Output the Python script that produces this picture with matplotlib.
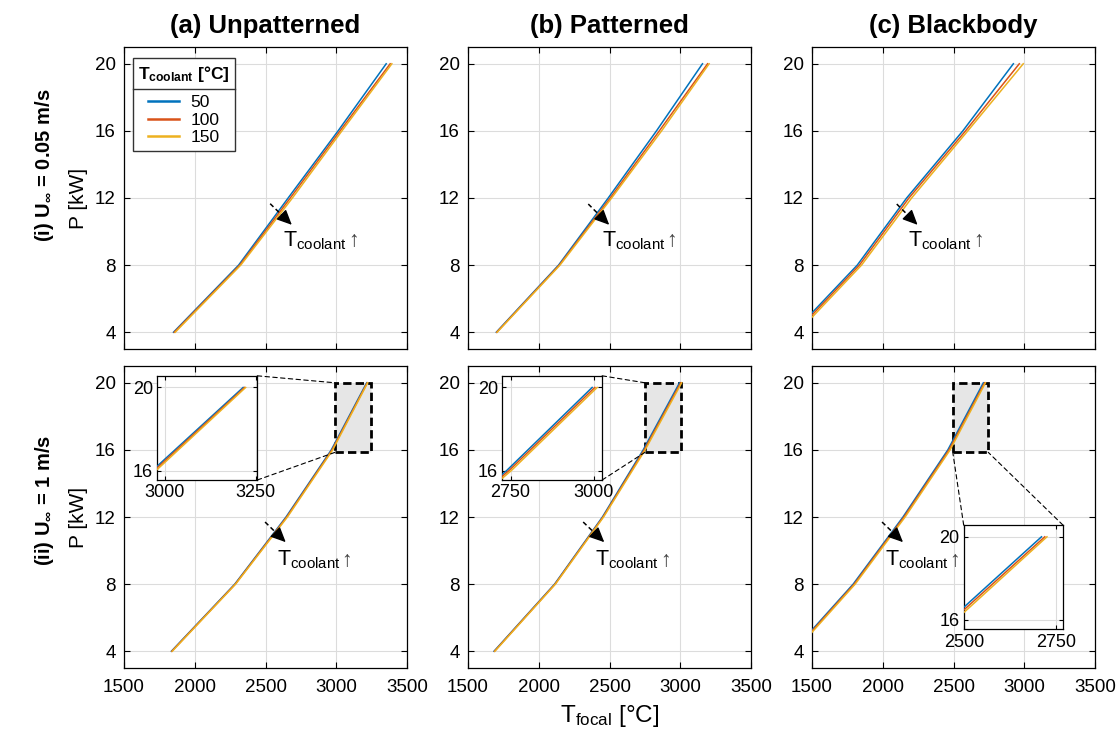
import matplotlib
matplotlib.use("Agg")
import matplotlib.pyplot as plt
from matplotlib.patches import Rectangle, ConnectionPatch
from matplotlib.lines import Line2D

plt.rcParams['font.family'] = ['Liberation Sans', 'DejaVu Sans']
plt.rcParams['mathtext.fontset'] = 'custom'
plt.rcParams['mathtext.rm'] = 'Liberation Sans'
plt.rcParams['mathtext.it'] = 'Liberation Sans:italic'
plt.rcParams['mathtext.bf'] = 'Liberation Sans:bold'
plt.rcParams['mathtext.fallback'] = 'stixsans'

# ---------------- data ----------------
P_kW = [4, 8, 12, 16, 20]
coolant_T = ['50', '100', '150']
colors = ['#0072BD', '#D95319', '#EDB120']

col_titles = ['(a) Unpatterned', '(b) Patterned', '(c) Blackbody']
row_labels = [r'(i) $\mathbf{U_{\infty}}$ = 0.05 m/s', r'(ii) $\mathbf{U_{\infty}}$ = 1 m/s']

# T_focal [°C] for coolant 50 / 100 / 150 °C
T_a_i = [[1850, 2310, 2660, 3013, 3353],
         [1855, 2318, 2675, 3027, 3381],
         [1862, 2325, 2690, 3040, 3393]]
T_b_i = [[1700, 2140, 2491, 2832, 3157],
         [1703, 2145, 2505, 2852, 3193],
         [1706, 2150, 2515, 2868, 3204]]
T_c_i = [[1370, 1820, 2169, 2566, 2923],
         [1385, 1835, 2185, 2585, 2965],
         [1400, 1850, 2204, 2601, 2993]]
T_a_ii = [[1835, 2283, 2645, 2965, 3215],
          [1838, 2286, 2650, 2970, 3219],
          [1841, 2289, 2655, 2975, 3222]]
T_b_ii = [[1684, 2112, 2450, 2738, 2995],
          [1687, 2115, 2454, 2745, 3003],
          [1690, 2118, 2458, 2752, 3010]]
T_c_ii = [[1365, 1791, 2143, 2460, 2711],
          [1372, 1798, 2150, 2468, 2720],
          [1380, 1805, 2158, 2476, 2726]]
data = [[T_a_i, T_b_i, T_c_i], [T_a_ii, T_b_ii, T_c_ii]]

x_ticks = [1500, 2000, 2500, 3000, 3500]
y_ticks = [4, 8, 12, 16, 20]

# zoom regions (bottom row): x-range of box, y-range of box
zoom_x = [[2990, 3245], [2750, 3002], [2495, 2746]]
zoom_y = [15.85, 20]
inset_xlim = [[2979, 3254], [2725, 3025], [2498, 2770]]
inset_ylim = [15.55, 20.56]
inset_xticks = [[3000, 3250], [2750, 3000], [2500, 2750]]
inset_yticks = [16, 20]

# annotation arrows: start (x, y), end (x, y), text x, text baseline y
arrows = [
    [[(2533, 11.66), (2686, 10.4), 2627, 9.11],
     [(2350, 11.64), (2498, 10.4), 2444, 9.11],
     [(2099, 11.64), (2246, 10.4), 2180, 9.11]],
    [[(2497, 11.7), (2643, 10.5), 2580, 9.09],
     [(2314, 11.7), (2463, 10.5), 2397, 9.09],
     [(1995, 11.7), (2143, 10.5), 2014, 9.09]],
]

# ---------------- figure ----------------
W, H = 1120, 736
fig = plt.figure(figsize=(W / 100, H / 100), dpi=100)
lefts_px = [124, 468, 812]
ax_w_px = 283
row_px = [(47, 349), (366, 668)]
row_label_y_px = [165, 500]

grid_col = '#dcdcdc'

def style_axes(ax, fs, pad=6):
    ax.tick_params(direction='in', top=True, right=True, labelsize=fs,
                   length=4, width=0.8, pad=pad)
    ax.grid(True, color=grid_col, lw=0.8)
    ax.set_axisbelow(True)
    for s in ax.spines.values():
        s.set_linewidth(0.9)

axes = [[None] * 3 for _ in range(2)]
for r in range(2):
    top, bot = row_px[r]
    for c in range(3):
        ax = fig.add_axes([lefts_px[c] / W, 1 - bot / H, ax_w_px / W, (bot - top) / H])
        axes[r][c] = ax
        style_axes(ax, 13.5)
        ax.tick_params(axis='x', pad=8)
        ax.set_xlim(1500, 3500)
        ax.set_ylim(3, 21)
        ax.set_xticks(x_ticks)
        ax.set_yticks(y_ticks)
        if r == 0:
            ax.set_xticklabels([])
        for k in range(3):
            ax.plot(data[r][c][k], P_kW, color=colors[k], lw=1.1,
                    label=coolant_T[k], zorder=3)
        (x0, y0), (x1, y1), tx, ty = arrows[r][c]
        # dashed shaft
        ax.plot([x0, x0 + 0.8 * (x1 - x0)], [y0, y0 + 0.8 * (y1 - y0)],
                color='k', lw=1.1, ls=(0, (3, 2)), zorder=5)
        # solid triangular head
        ax.annotate('', xy=(x1, y1), xytext=(x0 + 0.6 * (x1 - x0), y0 + 0.6 * (y1 - y0)),
                    arrowprops=dict(arrowstyle='-|>,head_length=0.65,head_width=0.3',
                                    color='k', lw=1.0, shrinkA=0, shrinkB=0,
                                    mutation_scale=14),
                    zorder=5)
        ax.text(tx, ty, r'$\mathrm{T_{coolant}}$', fontsize=15.5, ha='left',
                va='baseline', zorder=5)
        if r == 0:
            ax.set_title(col_titles[c], fontsize=18.5, fontweight='bold', pad=10)

# arrow glyph after the T_coolant text
fig.canvas.draw()
renderer = fig.canvas.get_renderer()
for r in range(2):
    for c in range(3):
        ax = axes[r][c]
        txt = [t for t in ax.texts if 'coolant' in t.get_text()][0]
        bb = txt.get_window_extent(renderer)
        ty = arrows[r][c][3]
        ybase = ax.transData.transform((0, ty))[1]
        fig.text((bb.x1 + 1) / W, ybase / H, '↑', fontsize=15.5, color='#444444',
                 ha='left', va='baseline')

# row / axis labels
for r in range(2):
    fig.text(45 / W, 1 - row_label_y_px[r] / H, row_labels[r], rotation=90,
             fontsize=14.5, fontweight='bold', ha='center', va='center')
    axes[r][0].set_ylabel('P [kW]', fontsize=15, labelpad=5)

fig.text(610 / W, 1 - 716 / H, r'$\mathrm{T_{focal}}$ [°C]', fontsize=17.5,
         ha='center', va='center')

# legend
leg = axes[0][0].legend(title=r'$\mathbf{T_{coolant}}$ [°C]', loc='upper left',
                        bbox_to_anchor=(0.032, 0.962), borderaxespad=0,
                        fontsize=12.5, title_fontproperties={'weight': 'bold', 'size': 12.5},
                        handlelength=1.75, labelspacing=0.15, handletextpad=0.7,
                        fancybox=False, edgecolor='#333333', framealpha=1,
                        borderpad=0.3)
leg._legend_box.sep = 8
leg.get_frame().set_linewidth(1.0)
for h in leg.get_lines():
    h.set_linewidth(1.8)

# zoom boxes and insets (bottom row)
for c in range(3):
    ax = axes[1][c]
    zx0, zx1 = zoom_x[c]
    ax.add_patch(Rectangle((zx0, zoom_y[0]), zx1 - zx0, zoom_y[1] - zoom_y[0],
                           facecolor='#e6e6e6', edgecolor='k', lw=2.0,
                           ls=(0, (3, 1.5)), zorder=2))
    if c < 2:
        pos = [0.118 if c == 0 else 0.121, 0.6225, 0.353, 0.345]
    else:
        pos = [0.536, 0.128, 0.351, 0.345]
    ins = ax.inset_axes(pos)
    style_axes(ins, 13, pad=3)
    ins.tick_params(length=3)
    ins.set_xlim(*inset_xlim[c])
    ins.set_ylim(*inset_ylim)
    ins.set_xticks(inset_xticks[c])
    ins.set_yticks(inset_yticks)
    for k in range(3):
        ins.plot(data[1][c][k], P_kW, color=colors[k], lw=1.1, zorder=3)
    ins.set_zorder(6)
    if c < 2:
        pairs = [((1, 1), (zx0, zoom_y[1])), ((1, 0), (zx0, zoom_y[0]))]
    else:
        pairs = [((0, 1), (zx0, zoom_y[0])), ((1, 1), (zx1, zoom_y[0]))]
    for a_pt, b_pt in pairs:
        cp = ConnectionPatch(xyA=a_pt, coordsA=ins.transAxes, xyB=b_pt,
                             coordsB=ax.transData, ls=(0, (4, 3)), lw=0.8, color='k')
        fig.add_artist(cp)

# separator line between the legend title and its entries
fig.canvas.draw()
lb = leg.get_frame().get_window_extent(renderer)
tb = leg.get_title().get_window_extent(renderer)
first = leg.get_texts()[0].get_window_extent(renderer)
ysep = 0.5 * (tb.y0 + first.y1)
fig.add_artist(Line2D([lb.x0 / W, lb.x1 / W], [ysep / H, ysep / H],
                      color='#333333', lw=1.0, transform=fig.transFigure))

fig.savefig('out.png', dpi=100)
